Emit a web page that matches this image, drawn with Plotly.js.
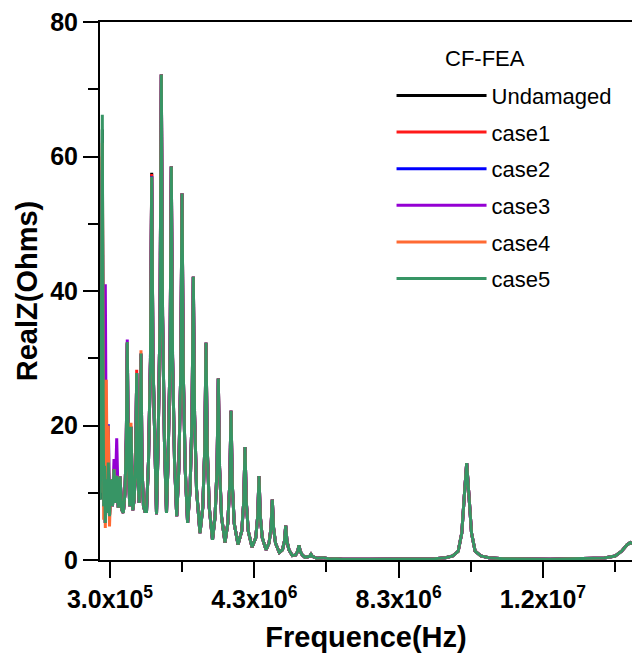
<!DOCTYPE html>
<html>
<head>
<meta charset="utf-8">
<script src="https://cdn.plot.ly/plotly-3.0.1.min.js"></script>
<style>html,body{margin:0;padding:0;background:#fff;}#chart{width:632px;height:662px;}</style>
</head>
<body>
<div id="chart"></div>
<script>
// Frequencies in MHz (x axis is labelled in Hz via tick text)
const lowFreq = [0.031, 0.051, 0.070, 0.087, 0.106, 0.125, 0.148, 0.170, 0.197, 0.225, 0.253, 0.286, 0.328, 0.369, 0.411, 0.447, 0.486, 0.530, 0.577, 0.624, 0.669, 0.716, 0.752, 0.779, 0.807, 0.846, 0.882, 0.929, 0.971, 1.012, 1.040, 1.070, 1.109, 1.137, 1.159, 1.187, 1.228, 1.270, 1.312, 1.366, 1.421, 1.456, 1.491, 1.546];

const lowUndamaged = [9, 20, 45, 64, 30, 8, 14, 5.5, 12, 7, 14.5, 6.5, 12, 8, 13.5, 8.5, 12.5, 7.8, 12.4, 7.5, 7.0, 10, 18, 32.2, 15, 8, 19.8, 7.4, 9, 15, 27.6, 13, 8.5, 16, 30.5, 14, 8, 7.2, 7.2, 14.5, 29.8, 57.6, 29.8, 14.5];
const lowCase1 = [14, 20, 42, 60, 30, 8, 14, 5.5, 12, 7, 15, 6.5, 12, 8, 13.5, 8.5, 12.5, 7.8, 12.4, 7.5, 7.0, 10, 18, 32.3, 15, 8, 19.8, 7.4, 9, 15, 28.3, 13, 8.5, 16, 30.6, 14, 8, 7.2, 7.2, 14.5, 29.7, 57.4, 29.7, 14.5];
const lowCase2 = [13.5, 19, 40, 58, 28, 8, 14, 5.5, 12, 9, 20.2, 8, 12, 8, 13.5, 8.5, 12.5, 7.8, 12.4, 7.5, 7.0, 10, 18, 32.3, 15, 8, 19.8, 7.4, 9, 15, 27.8, 13, 8.5, 16, 30.7, 14, 8, 7.2, 7.2, 14.5, 29.6, 57.1, 29.6, 14.5];
const lowCase3 = [11, 18, 25, 30, 20, 12, 20, 41, 14, 7, 14.5, 6.5, 12, 8, 15, 10, 18.1, 8, 12.4, 7.5, 7.0, 10, 18, 32.8, 15, 8, 19.8, 7.4, 9, 15, 27.8, 13, 8.5, 16, 30.7, 14, 8, 7.2, 7.2, 14.5, 29.6, 57.0, 29.6, 14.5];
const lowCase4 = [10, 22, 40, 62, 25, 6, 20, 4.75, 26.8, 10, 20, 5, 12, 8, 13.5, 8.5, 12.5, 7.8, 12.4, 7.5, 7.0, 10, 18, 32.4, 15, 8, 20.4, 7.4, 9, 15, 27.8, 13, 8.5, 16, 31.2, 14, 8, 7.2, 7.2, 14.5, 29.6, 57.0, 29.6, 14.5];
const lowCase5 = [9, 20, 45, 66.2, 30, 8, 14, 5.5, 12, 7, 14.5, 6.5, 12, 8, 13.5, 8.5, 12.5, 7.8, 12.4, 7.5, 7.0, 10, 18, 32.4, 15, 8, 19.8, 7.4, 9, 15, 27.8, 13, 8.5, 16, 30.7, 14, 8, 7.2, 7.2, 14.5, 29.6, 57.0, 29.6, 14.5];

// Shared part of the spectrum above ~1.55 MHz (all cases overlap here)
const highFreq = [1.589, 1.632, 1.687, 1.722, 1.757, 1.812, 1.866, 1.909, 1.964, 1.999, 2.034, 2.089, 2.149, 2.206, 2.261, 2.296, 2.331, 2.386, 2.451, 2.519, 2.574, 2.609, 2.644, 2.699, 2.794, 2.871, 2.926, 2.961, 2.996, 3.051, 3.141, 3.212, 3.267, 3.302, 3.337, 3.392, 3.487, 3.564, 3.619, 3.654, 3.689, 3.744, 3.848, 3.952, 4.007, 4.042, 4.077, 4.132, 4.236, 4.340, 4.395, 4.430, 4.465, 4.520, 4.624, 4.708, 4.763, 4.798, 4.833, 4.888, 4.992, 5.080, 5.135, 5.170, 5.205, 5.260, 5.353, 5.448, 5.503, 5.538, 5.573, 5.628, 5.705, 5.836, 5.871, 5.906, 6.037, 6.204, 6.397, 6.56, 6.75, 7.5, 8.5, 9.3, 9.6, 9.8, 9.95, 10.05, 10.12, 10.186, 10.25, 10.32, 10.42, 10.58, 10.8, 11.2, 12.5, 13.6, 14.0, 14.3, 14.48, 14.62, 14.72, 14.8];
const highZ = [6.8, 16.8, 36.3, 72.2, 36.3, 16.8, 7.0, 14.6, 30.1, 58.5, 30.1, 14.6, 6.5, 13.4, 27.9, 54.5, 27.9, 13.4, 5.5, 10.4, 21.6, 42.1, 21.6, 10.4, 4.0, 7.8, 16.5, 32.3, 16.5, 7.8, 3.0, 6.4, 13.7, 27.0, 13.7, 6.4, 2.6, 5.4, 11.3, 22.2, 11.3, 5.4, 2.3, 4.3, 8.7, 16.8, 8.7, 4.3, 1.9, 3.3, 6.6, 12.5, 6.6, 3.3, 1.5, 2.5, 4.8, 9.0, 4.8, 2.5, 1.1, 1.5, 2.8, 5.1, 2.8, 1.5, 0.65, 0.75, 1.3, 2.2, 1.3, 0.75, 0.4, 0.55, 0.85, 0.55, 0.25, 0.35, 0.15, 0.2, 0.12, 0.1, 0.12, 0.2, 0.35, 0.6, 1.3, 4.0, 9.5, 14.4, 9.5, 4.0, 1.3, 0.6, 0.35, 0.2, 0.12, 0.2, 0.3, 0.6, 1.3, 2.2, 2.6, 2.4];

const seriesNames = ['Undamaged', 'case1', 'case2', 'case3', 'case4', 'case5'];
const seriesLow = [lowUndamaged, lowCase1, lowCase2, lowCase3, lowCase4, lowCase5];
const seriesColors = ['#000000', '#ff1a1a', '#0000ff', '#9400d3', '#ff6a33', '#379565'];

const xTickVals = [0.3, 4.3, 8.3, 12.3];
const xTickText = ['3.0x10<sup>5</sup>', '4.3x10<sup>6</sup>', '8.3x10<sup>6</sup>', '1.2x10<sup>7</sup>'];
const xMinorVals = [2.3, 6.3, 10.3, 14.3];
const yTickVals = [0, 20, 40, 60, 80];
const yMinorVals = [10, 30, 50, 70];

const freqAll = lowFreq.concat(highFreq);
const traces = seriesNames.map((name, i) => ({
  type: 'scatter', mode: 'lines', name: name, legendgroup: name,
  x: freqAll, y: seriesLow[i].concat(highZ),
  line: {color: seriesColors[i], width: 3}
}));

const tickFont = {family: '"Liberation Sans", Arial, sans-serif', size: 25, color: '#000', weight: 'bold'};
const titleFont = {family: '"Liberation Sans", Arial, sans-serif', size: 29, color: '#000', weight: 'bold'};

const layout = {
  width: 632, height: 662,
  margin: {l: 100, r: 0, t: 22, b: 102},
  paper_bgcolor: '#fff', plot_bgcolor: '#fff',
  showlegend: true,
  legend: {x: 0.548, y: 0.902, xanchor: 'left', yanchor: 'top', bgcolor: 'rgba(0,0,0,0)',
           font: {family: '"Liberation Sans", Arial, sans-serif', size: 22, color: '#000'},
           itemwidth: 90, tracegroupgap: 5},
  xaxis: {range: [0.0228, 14.768], showgrid: false, zeroline: false,
          showline: true, linecolor: '#000', linewidth: 2, mirror: true,
          tickmode: 'array', tickvals: xTickVals, ticktext: xTickText,
          ticks: 'outside', ticklen: 16, tickwidth: 2, tickcolor: '#000',
          minor: {tickmode: 'array', tickvals: xMinorVals, ticks: 'outside', ticklen: 10, tickwidth: 2, tickcolor: '#000', showgrid: false},
          tickfont: tickFont,
          title: {text: 'Frequence(Hz)', font: titleFont, standoff: 15}},
  yaxis: {range: [0, 80], showgrid: false, zeroline: false,
          showline: true, linecolor: '#000', linewidth: 2,
          tickmode: 'array', tickvals: yTickVals,
          ticks: 'outside', ticklen: 15, tickwidth: 2, tickcolor: '#000',
          minor: {tickmode: 'array', tickvals: yMinorVals, ticks: 'outside', ticklen: 10, tickwidth: 2, tickcolor: '#000', showgrid: false},
          tickfont: tickFont,
          title: {text: 'RealZ(Ohms)', font: titleFont, standoff: 4}},
  annotations: [{xref: 'paper', yref: 'paper', x: 0.724, y: 0.932, xanchor: 'center', yanchor: 'middle',
                 text: 'CF-FEA', showarrow: false,
                 font: {family: '"Liberation Sans", Arial, sans-serif', size: 22, color: '#000'}}]
};

Plotly.newPlot('chart', traces, layout, {displayModeBar: false, staticPlot: true});
</script>
</body>
</html>
